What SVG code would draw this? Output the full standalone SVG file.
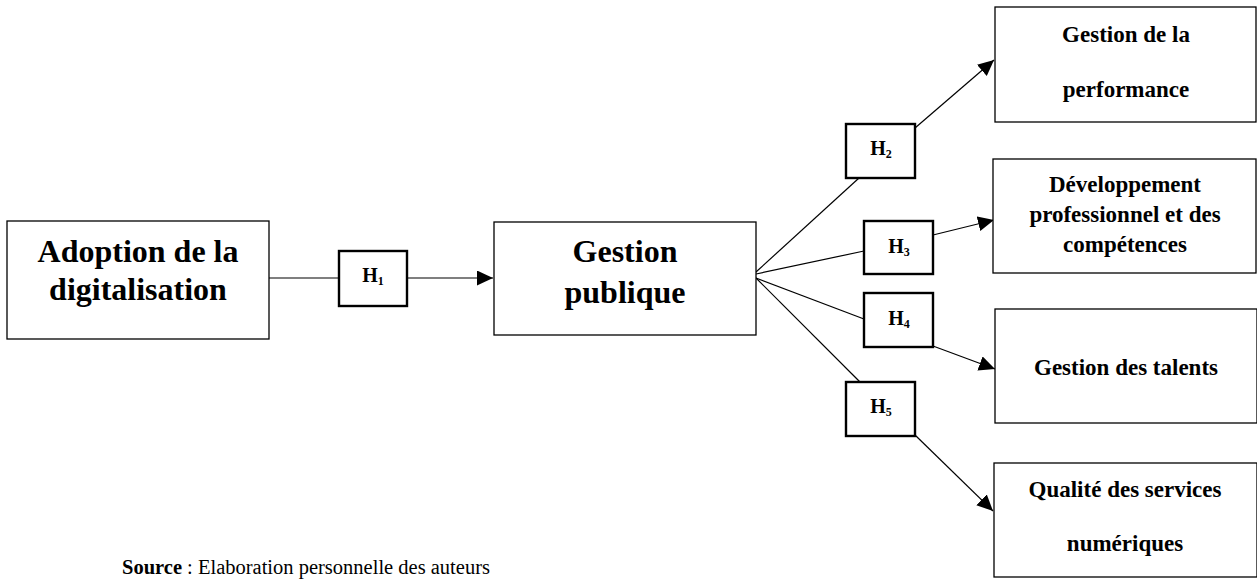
<svg xmlns="http://www.w3.org/2000/svg" width="1257" height="579" viewBox="0 0 1257 579">
<defs>
<style>
.box{fill:#fff;stroke:#000;stroke-width:1.3}
.hbox{fill:#fff;stroke:#000;stroke-width:2.4}
.t{font-family:"Liberation Serif","Times New Roman",serif;font-weight:bold;fill:#000;text-anchor:middle}
.big{font-size:32px}
.mid{font-size:23px}
.h{font-size:20px}
.sub{font-size:12px}
.c{stroke:#000;stroke-width:1.2;fill:none}
</style>
<marker id="arr" markerUnits="userSpaceOnUse" markerWidth="18" markerHeight="16" refX="16" refY="7.5" orient="auto">
<path d="M0,0 L16,7.5 L0,15 Z" fill="#000"/>
</marker>
</defs>
<rect width="1257" height="579" fill="#fff"/>
<g id="connectors">
<line class="c" x1="269" y1="278" x2="339" y2="278"/>
<line class="c" x1="407" y1="278" x2="493" y2="278" marker-end="url(#arr)"/>
<line class="c" x1="756" y1="272" x2="859" y2="178"/>
<line class="c" x1="915" y1="128" x2="994" y2="60" marker-end="url(#arr)"/>
<line class="c" x1="756" y1="274" x2="864" y2="251"/>
<line class="c" x1="933" y1="235" x2="994" y2="220" marker-end="url(#arr)"/>
<line class="c" x1="756" y1="278" x2="864" y2="319"/>
<line class="c" x1="933" y1="346" x2="995" y2="369" marker-end="url(#arr)"/>
<line class="c" x1="756" y1="278" x2="860" y2="382"/>
<line class="c" x1="915" y1="435" x2="993" y2="511" marker-end="url(#arr)"/>
</g>
<g id="adoption">
<rect class="box" x="7" y="221" width="262" height="118"/>
<text class="t big" x="138" y="262">Adoption de la</text>
<text class="t big" x="138" y="300">digitalisation</text>
</g>
<g id="h1">
<rect class="hbox" x="339" y="251" width="68" height="55"/>
<text class="t h" x="373" y="282">H<tspan class="sub" dy="3">1</tspan></text>
</g>
<g id="gestion-publique">
<rect class="box" x="494" y="222" width="262" height="113"/>
<text class="t big" x="625" y="262">Gestion</text>
<text class="t big" x="625" y="303">publique</text>
</g>
<g id="h2">
<rect class="hbox" x="846" y="124" width="69" height="54"/>
<text class="t h" x="881" y="155">H<tspan class="sub" dy="3">2</tspan></text>
</g>
<g id="h3">
<rect class="hbox" x="864" y="221" width="69" height="53"/>
<text class="t h" x="899" y="253">H<tspan class="sub" dy="3">3</tspan></text>
</g>
<g id="h4">
<rect class="hbox" x="864" y="293" width="69" height="54"/>
<text class="t h" x="899" y="325">H<tspan class="sub" dy="3">4</tspan></text>
</g>
<g id="h5">
<rect class="hbox" x="846" y="382" width="69" height="54"/>
<text class="t h" x="881" y="413">H<tspan class="sub" dy="3">5</tspan></text>
</g>
<g id="performance">
<rect class="box" x="995" y="7" width="261" height="115"/>
<text class="t mid" x="1126" y="42">Gestion de la</text>
<text class="t mid" x="1126" y="97">performance</text>
</g>
<g id="developpement">
<rect class="box" x="993" y="159" width="263" height="114"/>
<text class="t mid" x="1125" y="192">Développement</text>
<text class="t mid" x="1125" y="222">professionnel et des</text>
<text class="t mid" x="1125" y="252">compétences</text>
</g>
<g id="talents">
<rect class="box" x="995" y="309" width="262" height="114"/>
<text class="t mid" x="1126" y="375">Gestion des talents</text>
</g>
<g id="qualite">
<rect class="box" x="994" y="463" width="263" height="114"/>
<text class="t mid" x="1125" y="497">Qualité des services</text>
<text class="t mid" x="1125" y="551">numériques</text>
</g>
<text x="122" y="574" font-family="Liberation Serif, 'Times New Roman', serif" font-size="20.5px" fill="#000"><tspan font-weight="bold">Source</tspan> : Elaboration personnelle des auteurs</text>
</svg>
